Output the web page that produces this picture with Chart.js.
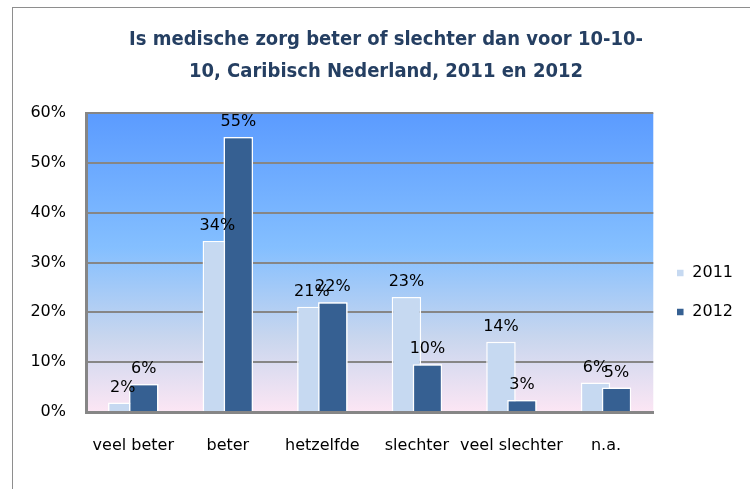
<!DOCTYPE html>
<html>
<head>
<meta charset="utf-8">
<script src="https://cdn.jsdelivr.net/npm/chart.js@4.4.1/dist/chart.umd.min.js"></script>
<style>
  html, body { margin: 0; padding: 0; background: #fff; }
  #wrap { position: relative; width: 750px; height: 489px; overflow: hidden; }
  #frame { position: absolute; left: 12px; top: 7px; width: 800px; height: 600px; border: 1px solid #8e8e8e; pointer-events: none; }
  canvas { position: absolute; left: 0; top: 0; }
</style>
</head>
<body>
<div id="wrap">
  <canvas id="chart" width="750" height="489"></canvas>
  <div id="frame"></div>
</div>
<script>
const CATEGORIES = ['veel beter', 'beter', 'hetzelfde', 'slechter', 'veel slechter', 'n.a.']
const SERIES = ['2011', '2012']
const VALUES_2011 = [1.9, 34.3, 21.1, 23.1, 14.1, 5.9]
const VALUES_2012 = [5.6, 55.2, 22.0, 9.6, 2.4, 4.9]
const LABELS_2011 = ['2%', '34%', '21%', '23%', '14%', '6%']
const LABELS_2012 = ['6%', '55%', '22%', '10%', '3%', '5%']
const Y_TICKS = [0, 10, 20, 30, 40, 50, 60]
const TITLE = ['Is medische zorg beter of slechter dan voor 10-10-', '10, Caribisch Nederland, 2011 en 2012']

const C_2011 = '#c6d9f1', C_2012 = '#366092'
const AXIS = '#868686'

Chart.defaults.font.family = "'DejaVu Sans', sans-serif"
Chart.defaults.font.size = 16
Chart.defaults.color = '#000'

// Blue-to-pink gradient behind the plot, like the Excel original
const plotBg = {
  id: 'plotBg',
  beforeDraw(chart) {
    const { ctx, chartArea: a } = chart
    const g = ctx.createLinearGradient(0, a.top, 0, a.bottom)
    g.addColorStop(0, '#5b9bff')
    g.addColorStop(0.45, '#84bfff')
    g.addColorStop(0.75, '#c8d6ee')
    g.addColorStop(1, '#fce6f4')
    ctx.save()
    ctx.fillStyle = g
    ctx.fillRect(a.left, a.top, a.right - a.left, a.bottom - a.top)
    ctx.restore()
  }
}

// 2012 bars overlap the 2011 ones, so draw them again on top, then the value labels
const topBarsAndLabels = {
  id: 'topBarsAndLabels',
  afterDatasetsDraw(chart) {
    chart.getDatasetMeta(1).controller.draw()
    const ctx = chart.ctx
    ctx.save()
    ctx.font = "16px 'DejaVu Sans', sans-serif"
    ctx.fillStyle = '#000'
    ctx.textAlign = 'center'
    ctx.textBaseline = 'alphabetic'
    ;[LABELS_2011, LABELS_2012].forEach((labels, di) => {
      chart.getDatasetMeta(di).data.forEach((bar, i) => {
        ctx.fillText(labels[i], bar.x, bar.y - 11)
      })
    })
    ctx.restore()
  }
}

const barOpts = { categoryPercentage: 0.444, barPercentage: 1.405, borderColor: '#fff', borderWidth: 1.5 }

new Chart(document.getElementById('chart'), {
  type: 'bar',
  data: {
    labels: CATEGORIES,
    datasets: [
      { label: SERIES[0], data: VALUES_2011, backgroundColor: C_2011, ...barOpts },
      { label: SERIES[1], data: VALUES_2012, backgroundColor: C_2012, ...barOpts }
    ]
  },
  options: {
    responsive: false,
    animation: false,
    layout: { padding: { left: 29, right: 7, top: 10, bottom: 0 } },
    plugins: {
      title: {
        display: true,
        text: TITLE,
        color: '#253f62',
        font: { family: "'Liberation Sans Narrow', 'DejaVu Sans Condensed', sans-serif", size: 20, weight: 'bold', lineHeight: 1.6 },
        padding: { top: 14, bottom: 25 }
      },
      legend: {
        position: 'right',
        // empty title only pushes the two entries down a bit
        title: { display: true, text: '', font: { size: 10 }, padding: { top: 74, bottom: 0 } },
        labels: { boxWidth: 8, boxHeight: 8, padding: 23, font: { size: 16 }, color: '#000' }
      },
      tooltip: { enabled: false }
    },
    scales: {
      x: {
        grid: { display: false, drawTicks: false },
        border: { color: AXIS, width: 3 },
        ticks: { padding: 24, maxRotation: 0, minRotation: 0, autoSkip: false },
        afterFit: s => { s.height = 77 }
      },
      y: {
        min: 0,
        max: 60,
        afterBuildTicks: s => { s.ticks = Y_TICKS.map(v => ({ value: v })) },
        grid: { color: AXIS, lineWidth: 2, drawTicks: false },
        border: { color: AXIS, width: 3 },
        ticks: { padding: 20, callback: v => v + '%' },
        afterFit: s => { s.width = 57 }
      }
    }
  },
  plugins: [plotBg, topBarsAndLabels]
})
</script>
</body>
</html>
